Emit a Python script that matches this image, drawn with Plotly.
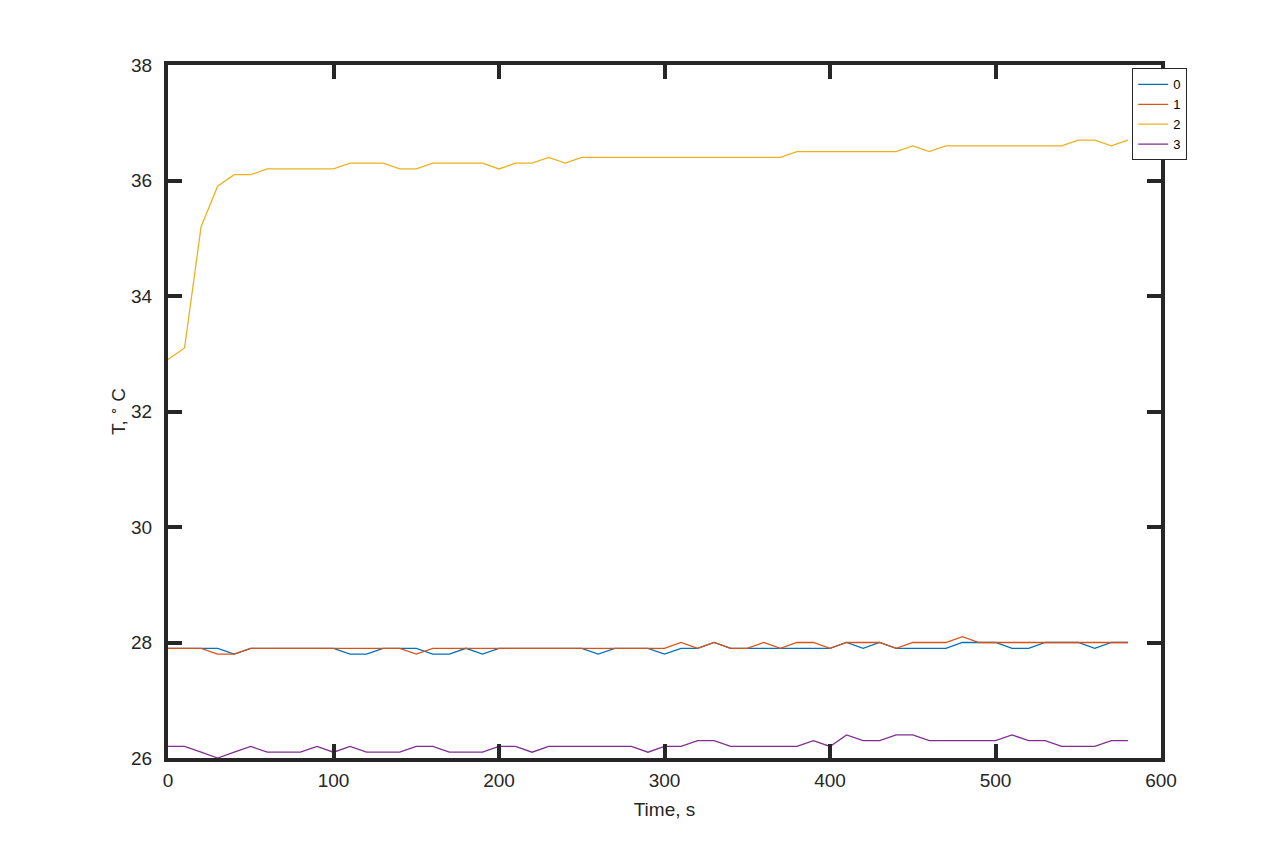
import plotly.graph_objects as go

time_s = list(range(0, 590, 10))

series0 = [27.9, 27.9, 27.9, 27.9, 27.8, 27.9, 27.9, 27.9, 27.9, 27.9,
           27.9, 27.8, 27.8, 27.9, 27.9, 27.9, 27.8, 27.8, 27.9, 27.8,
           27.9, 27.9, 27.9, 27.9, 27.9, 27.9, 27.8, 27.9, 27.9, 27.9,
           27.8, 27.9, 27.9, 28.0, 27.9, 27.9, 27.9, 27.9, 27.9, 27.9,
           27.9, 28.0, 27.9, 28.0, 27.9, 27.9, 27.9, 27.9, 28.0, 28.0,
           28.0, 27.9, 27.9, 28.0, 28.0, 28.0, 27.9, 28.0, 28.0]

series1 = [27.9, 27.9, 27.9, 27.8, 27.8, 27.9, 27.9, 27.9, 27.9, 27.9,
           27.9, 27.9, 27.9, 27.9, 27.9, 27.8, 27.9, 27.9, 27.9, 27.9,
           27.9, 27.9, 27.9, 27.9, 27.9, 27.9, 27.9, 27.9, 27.9, 27.9,
           27.9, 28.0, 27.9, 28.0, 27.9, 27.9, 28.0, 27.9, 28.0, 28.0,
           27.9, 28.0, 28.0, 28.0, 27.9, 28.0, 28.0, 28.0, 28.1, 28.0,
           28.0, 28.0, 28.0, 28.0, 28.0, 28.0, 28.0, 28.0, 28.0]

series2 = [32.9, 33.1, 35.2, 35.9, 36.1, 36.1, 36.2, 36.2, 36.2, 36.2,
           36.2, 36.3, 36.3, 36.3, 36.2, 36.2, 36.3, 36.3, 36.3, 36.3,
           36.2, 36.3, 36.3, 36.4, 36.3, 36.4, 36.4, 36.4, 36.4, 36.4,
           36.4, 36.4, 36.4, 36.4, 36.4, 36.4, 36.4, 36.4, 36.5, 36.5,
           36.5, 36.5, 36.5, 36.5, 36.5, 36.6, 36.5, 36.6, 36.6, 36.6,
           36.6, 36.6, 36.6, 36.6, 36.6, 36.7, 36.7, 36.6, 36.7]

series3 = [26.2, 26.2, 26.1, 26.0, 26.1, 26.2, 26.1, 26.1, 26.1, 26.2,
           26.1, 26.2, 26.1, 26.1, 26.1, 26.2, 26.2, 26.1, 26.1, 26.1,
           26.2, 26.2, 26.1, 26.2, 26.2, 26.2, 26.2, 26.2, 26.2, 26.1,
           26.2, 26.2, 26.3, 26.3, 26.2, 26.2, 26.2, 26.2, 26.2, 26.3,
           26.2, 26.4, 26.3, 26.3, 26.4, 26.4, 26.3, 26.3, 26.3, 26.3,
           26.3, 26.4, 26.3, 26.3, 26.2, 26.2, 26.2, 26.3, 26.3]

series_names = ["0", "1", "2", "3"]
colors = ["#0072BD", "#D95319", "#EDB120", "#7E2F8E"]

x_ticks = [0, 100, 200, 300, 400, 500, 600]
y_ticks = [26, 28, 30, 32, 34, 36, 38]

FONT = "Liberation Sans, Arial, sans-serif"

fig = go.Figure()
for name, ys, c in zip(series_names, [series0, series1, series2, series3], colors):
    fig.add_trace(go.Scatter(x=time_s, y=ys, mode="lines", name=name,
                             line=dict(color=c, width=1.3)))

axis_common = dict(
    showline=True, linewidth=4, linecolor="#262626", mirror="ticks",
    ticks="inside", ticklen=14, tickwidth=4, tickcolor="#262626",
    showgrid=False, zeroline=False,
    tickfont=dict(family=FONT, size=19, color="#262626"),
)

fig.update_xaxes(range=[0, 600], tickvals=x_ticks, ticklabelstandoff=2,
                 title=dict(text="Time, s", standoff=14,
                            font=dict(family=FONT, size=19, color="#262626")),
                 **axis_common)
fig.update_yaxes(range=[26, 38], tickvals=y_ticks, ticklabelstandoff=8,
                 title=dict(text="T, <sup>∘</sup> C", standoff=1,
                            font=dict(family=FONT, size=19, color="#262626")),
                 **axis_common)

fig.update_layout(
    width=1280, height=853,
    margin=dict(l=160, r=127, t=57, b=103),
    plot_bgcolor="white", paper_bgcolor="white",
    showlegend=True,
    legend=dict(x=0.971, y=0.995, xanchor="left", yanchor="top",
                bgcolor="white", bordercolor="#262626", borderwidth=1,
                font=dict(family=FONT, size=13, color="black"),
                tracegroupgap=0, itemwidth=30),
)

fig.write_html("out.html")
